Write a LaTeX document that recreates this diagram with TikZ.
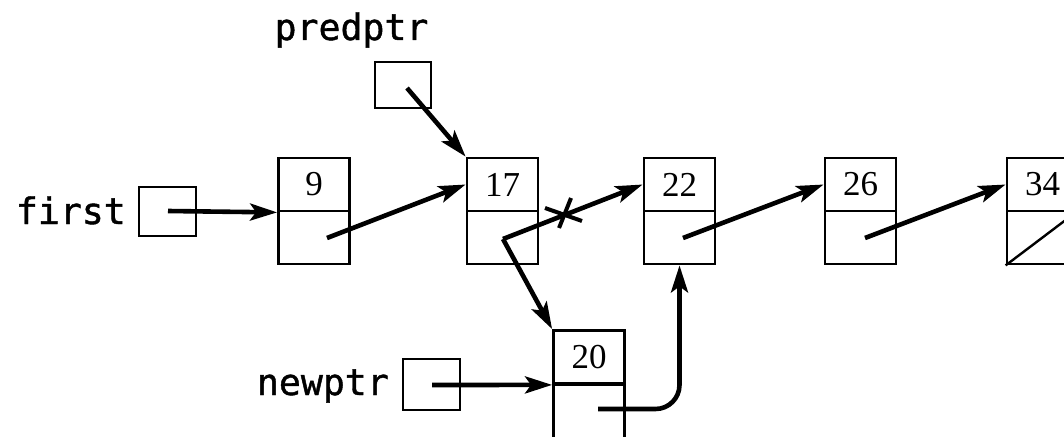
\documentclass[tikz,border=0pt]{standalone}
\usepackage{fontspec}
\setmainfont{Liberation Serif}
\newfontfamily\codefont[FakeBold=1.2]{DejaVu Sans Mono}
\usetikzlibrary{arrows.meta}

\tikzset{
  cell/.style={draw, line width=2.8pt, minimum width=71pt, minimum height=53pt,
    inner sep=0pt, font=\fontsize{35}{35}\selectfont},
  ptrbox/.style={draw, line width=2.8pt, inner sep=0pt},
  lbl/.style={font=\codefont\fontsize{36.5}{36.5}\selectfont, inner sep=0pt},
  link/.style={line width=4.6pt, -{Stealth[length=27pt,width=17pt,inset=6pt]}},
  crossout/.style={line width=4pt}
}

\begin{document}
\begin{tikzpicture}[x=1pt,y=-1pt]
\useasboundingbox (0,0) rectangle (1064,436);
\begin{scope}
\clip (0,0) rectangle (1064,436);

% list nodes: value cell above, link cell below
\node[cell] (n9)   at (314,184.5)  {9};
\node[cell] (n9b)  at (314,237.5)  {};
\node[cell] (n17)  at (502.5,184.5) {17};
\node[cell] (n17b) at (502.5,237.5) {};
\node[cell] (n22)  at (679.5,184.5) {22};
\node[cell] (n22b) at (679.5,237.5) {};
\node[cell] (n26)  at (860.5,184.5) {26};
\node[cell] (n26b) at (860.5,237.5) {};
\node[cell] (n34)  at (1042.5,184.5) {34};
\node[cell] (n34b) at (1042.5,237.5) {};
\node[cell] (n20)  at (589,357)    {20};
\node[cell, anchor=north, minimum height=70pt] (n20b) at (589,383.5) {};

% external pointer variables
\node[ptrbox, minimum width=57pt, minimum height=49pt] (first)   at (167.5,211.5) {};
\node[ptrbox, minimum width=56pt, minimum height=46pt] (predptr) at (403,85) {};
\node[ptrbox, minimum width=57pt, minimum height=51pt] (newptr)  at (431.5,384.5) {};

\node[lbl, anchor=base east] (firstlbl) at (126,224) {first};
\node[lbl, anchor=base] (predlbl) at (351.5,40) {predptr};
\node[lbl, anchor=base east] (newlbl) at (389,395) {newptr};

% link start points inside the cells
\coordinate (s9)  at (327,238);
\coordinate (s17) at (503,239);
\coordinate (s22) at (683,238);
\coordinate (s26) at (865,238);
\coordinate (s20) at (598,409);
\coordinate (sfirst) at (168,211);
\coordinate (spred)  at (407,88);
\coordinate (snew)   at (432,385);

% links
\draw[link] (sfirst) -- (n9.south west);
\draw[link] (spred) -- (n17.north west);
\draw[link] (s9) -- (n17.west);
\draw[link] (s17) -- (n22.west);
\draw[link] (s17) -- (n20.north west);
\draw[link] (s22) -- (n26.west);
\draw[link] (s26) -- (n34.west);
\draw[link] (snew) -- (n20.south west);
\draw[link, rounded corners=24pt] (s20) -| (n22b.south);

% null link in the last node
\draw[line width=2.4pt] (n34b.south west) -- (n34b.north east);

% crossed-out old link
\coordinate (xa) at (545,208);
\coordinate (xb) at (582,221);
\coordinate (xc) at (571,198);
\coordinate (xd) at (559,228);
\draw[crossout] (xa) -- (xb);
\draw[crossout] (xc) -- (xd);
\end{scope}
\end{tikzpicture}
\end{document}
